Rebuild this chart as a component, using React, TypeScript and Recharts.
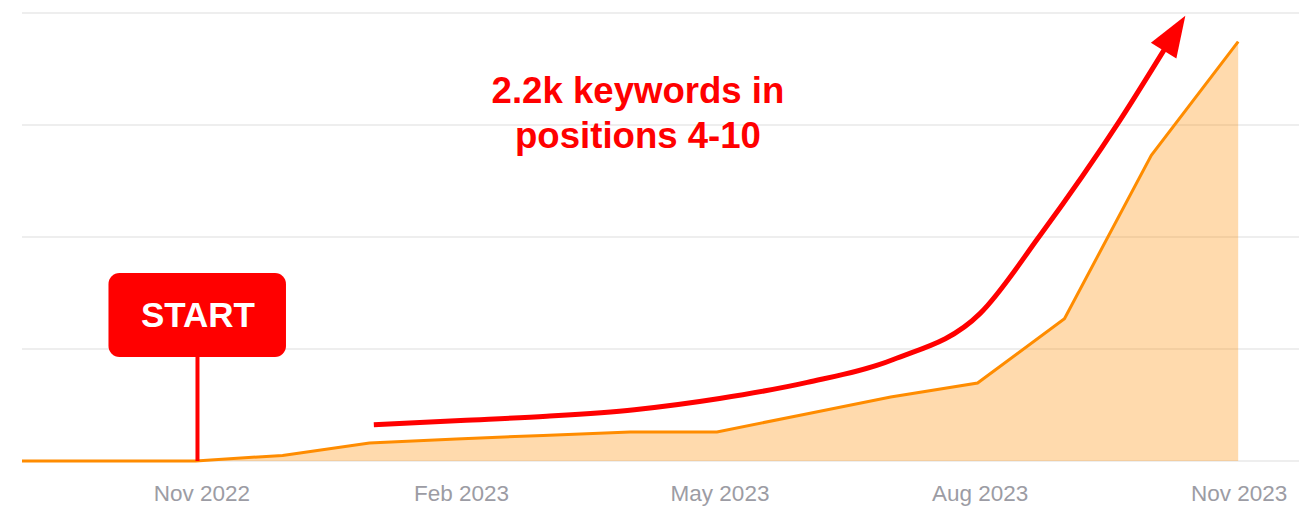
import React from 'react';
import {
  ComposedChart,
  Area,
  Line,
  XAxis,
  YAxis,
  CartesianGrid,
  ReferenceLine,
  ReferenceDot,
  Customized,
} from 'recharts';

// ---- data ----
const monthIndex = [0, 1, 2, 3, 4, 5, 6, 7, 8, 9, 10, 11, 12, 13, 14];
const keywords = [0, 0, 0, 30, 96, 118, 137, 155, 156, 249, 343, 418, 762, 1638, 2247];
const tickIndex = [2.07, 5.06, 8.035, 11.03, 14.01];
const tickLabels = ['Nov 2022', 'Feb 2023', 'May 2023', 'Aug 2023', 'Nov 2023'];
const yTicks = [0, 600, 1200, 1800, 2400];
const trendX = [4.05, 5.05, 6.04, 7.05, 8.03, 9.04, 10.03, 11.03, 11.72, 12.64, 13.16];
const trendY = [194, 217, 240, 275, 335, 421, 544, 791, 1209, 1826, 2212];
const startX = 2.02;
const startTop = 557;
const titleLines = ['2.2k keywords in', 'positions 4-10'];
const startLabel = 'START';

const mainData = monthIndex.map((m, i) => ({ m, v: keywords[i] }));
const trendData = trendX.map((m, i) => ({ m, t: trendY[i] }));

const RED = '#ff0000';
const FONT = '"Liberation Sans", Arial, sans-serif';

const ArrowDot = (props: any) => {
  const { cx, cy, index } = props;
  if (index !== trendData.length - 1 || cx == null || cy == null) {
    return <g key={`d${index}`} />;
  }
  const ux = 0.529;
  const uy = -0.849;
  const L = 41;
  const hw = 15;
  const bx = cx - ux * 3;
  const by = cy - uy * 3;
  const tx = bx + ux * L;
  const ty = by + uy * L;
  const px = -uy;
  const py = ux;
  const pts = `${tx},${ty} ${bx + px * hw},${by + py * hw} ${bx - px * hw},${by - py * hw}`;
  return <polygon key={`d${index}`} points={pts} fill={RED} />;
};

const StartBox = (props: any) => {
  const { cx, cy } = props;
  return (
    <g>
      <rect x={cx - 89} y={cy - 84} width={177.5} height={84} rx={11} ry={11} fill={RED} />
      <text
        x={cx + 0.5}
        y={cy - 30}
        textAnchor="middle"
        fill="#ffffff"
        fontFamily={FONT}
        fontWeight="bold"
        fontSize={35}
      >
        {startLabel}
      </text>
    </g>
  );
};

const Title = () => (
  <g>
    {titleLines.map((t, i) => (
      <text
        key={t}
        x={638}
        y={103 + i * 45}
        textAnchor="middle"
        fill={RED}
        fontFamily={FONT}
        fontWeight="bold"
        fontSize={36.6}
      >
        {t}
      </text>
    ))}
  </g>
);

export default function App() {
  return (
    <div style={{ position: 'absolute', left: 0, top: 0, width: 1299, height: 517, background: '#fff' }}>
      <ComposedChart
        width={1299}
        height={517}
        data={mainData}
        margin={{ top: 13, right: 0, left: 22, bottom: 0 }}
      >
        <CartesianGrid vertical={false} stroke="#eeeeee" strokeWidth={2} />
        <XAxis
          type="number"
          dataKey="m"
          domain={[0, 14.7]}
          ticks={tickIndex}
          tickFormatter={(v: number) => tickLabels[tickIndex.indexOf(v)] ?? ''}
          axisLine={false}
          tickLine={false}
          tickSize={6}
          tickMargin={18}
          height={56}
          interval={0}
          allowDataOverflow
          tick={{ fill: '#9c9ca4', fontSize: 22.5, fontFamily: FONT }}
        />
        <YAxis hide domain={[0, 2400]} ticks={yTicks} />
        <Area
          type="linear"
          dataKey="v"
          stroke="#ff8c00"
          strokeWidth={3}
          fill="#ff8c00"
          fillOpacity={0.32}
          isAnimationActive={false}
          dot={false}
          activeDot={false}
        />
        <Line
          data={trendData}
          type="monotone"
          dataKey="t"
          stroke={RED}
          strokeWidth={5}
          dot={ArrowDot}
          activeDot={false}
          isAnimationActive={false}
        />
        <ReferenceLine
          segment={[
            { x: startX, y: 0 },
            { x: startX, y: startTop },
          ]}
          stroke={RED}
          strokeWidth={4}
        />
        <ReferenceDot x={startX} y={startTop} r={1} shape={StartBox} />
        <Customized component={Title} />
      </ComposedChart>
    </div>
  );
}
